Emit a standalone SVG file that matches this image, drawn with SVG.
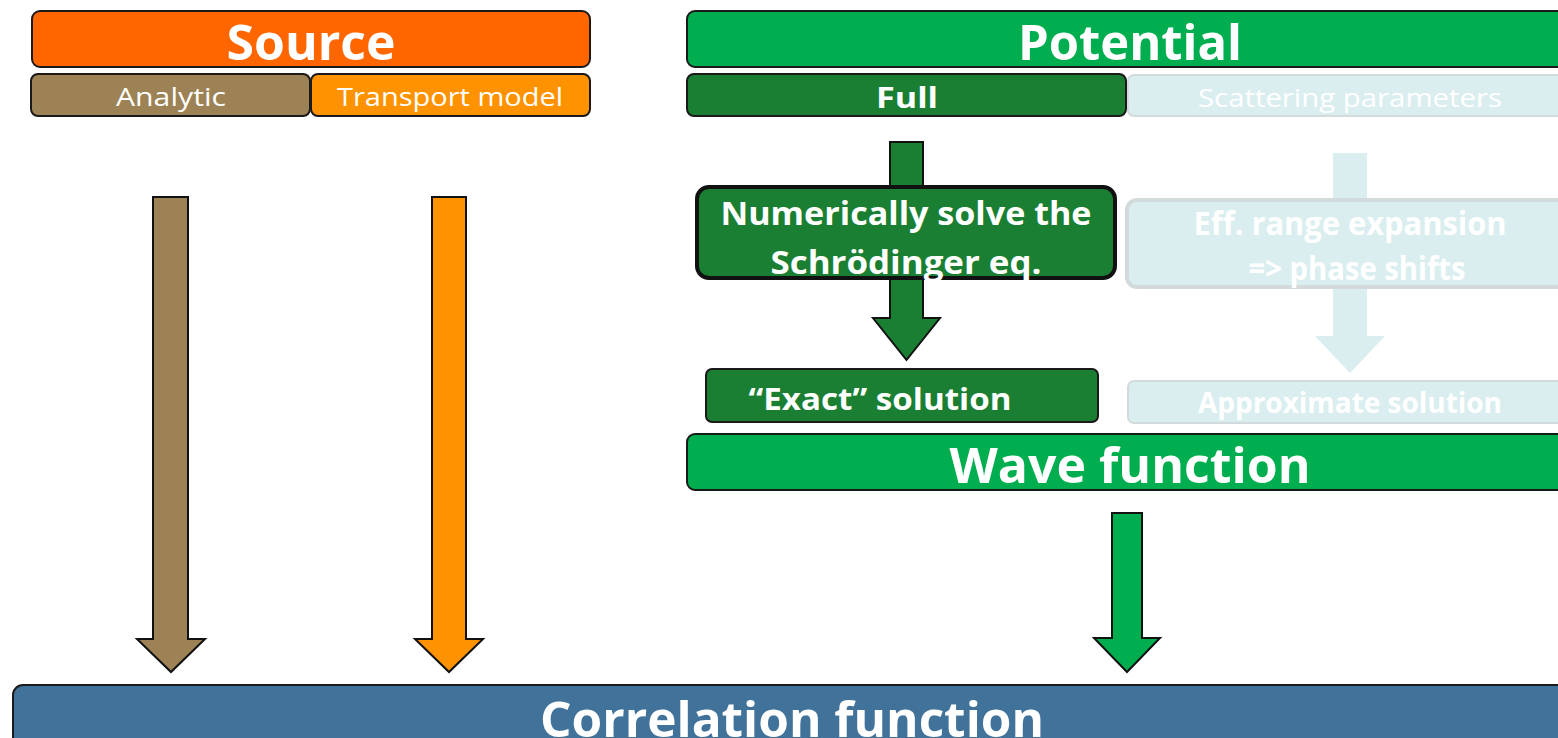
<svg xmlns="http://www.w3.org/2000/svg" width="1558" height="738" viewBox="0 0 1558 738">
<style>
text{font-family:"Open Sans","Liberation Sans",sans-serif;fill:#fff;text-anchor:middle}
.b{font-weight:bold}
.box{stroke:#1a1a1a;stroke-width:2}
.faint{fill:#DAEEF0;stroke:#D3DADB;stroke-width:2}
.arr{stroke:#111;stroke-width:2;stroke-linejoin:miter}
</style>
<rect width="1558" height="738" fill="#fff"/>
<g id="connectors">
<path class="arr" fill="#9C8254" d="M153,197 H188 V639 H205 L171,672 L137,639 H153 Z"/>
<path class="arr" fill="#FF9200" d="M432,197 H466 V639 H483 L449,672 L415,639 H432 Z"/>
<path class="arr" fill="#1A7F32" d="M890,142 H923 V318 H940 L906.5,360 L873,318 H890 Z"/>
<path fill="#DAEEF0" d="M1333,153 H1367 V336 H1385 L1350,373 L1315,336 H1333 Z"/>
<path class="arr" fill="#00AE50" d="M1112,513 H1142 V638 H1160 L1127,672 L1094,638 H1112 Z"/>
</g>
<g id="source">
<rect class="box" x="32" y="11" width="558" height="56" rx="8" fill="#FF6600"/>
<text class="b" x="311" y="60" font-size="48" textLength="169" lengthAdjust="spacingAndGlyphs">Source</text>
</g>
<g id="analytic">
<rect class="box" x="31" y="74" width="279" height="42" rx="7" fill="#9C8254"/>
<text x="171" y="106" font-size="25" textLength="110" lengthAdjust="spacingAndGlyphs">Analytic</text>
</g>
<g id="transport">
<rect class="box" x="311" y="74" width="279" height="42" rx="7" fill="#FF9200"/>
<text x="450" y="106" font-size="25" textLength="226" lengthAdjust="spacingAndGlyphs">Transport model</text>
</g>
<g id="potential">
<rect class="box" x="687" y="11" width="885" height="56" rx="8" fill="#00AE50"/>
<text class="b" x="1130" y="60" font-size="48" textLength="224" lengthAdjust="spacingAndGlyphs">Potential</text>
</g>
<g id="full">
<rect class="box" x="687" y="74" width="439" height="42" rx="7" fill="#1A7F32"/>
<text class="b" x="907" y="108" font-size="28" textLength="62" lengthAdjust="spacingAndGlyphs">Full</text>
</g>
<g id="scattering">
<rect class="faint" x="1128" y="75" width="444" height="41" rx="6"/>
<text x="1350" y="107" font-size="26" textLength="304" lengthAdjust="spacingAndGlyphs">Scattering parameters</text>
</g>
<g id="numerically">
<rect x="697" y="187" width="418" height="91" rx="12" fill="#1A7F32" stroke="#111" stroke-width="4"/>
<text class="b" x="906" y="225" font-size="32" textLength="371" lengthAdjust="spacingAndGlyphs">Numerically solve the</text>
<text class="b" x="906" y="274" font-size="32" textLength="271" lengthAdjust="spacingAndGlyphs">Schrödinger eq.</text>
</g>
<g id="effrange">
<rect x="1127" y="200" width="445" height="87" rx="10" fill="#DAEEF0" stroke="#D3DADB" stroke-width="4"/>
<text class="b" x="1350" y="235" font-size="32" textLength="313" lengthAdjust="spacingAndGlyphs">Eff. range expansion</text>
<text class="b" x="1357" y="280" font-size="32" textLength="217" lengthAdjust="spacingAndGlyphs">=&gt; phase shifts</text>
</g>
<g id="exact">
<rect class="box" x="706" y="369" width="392" height="53" rx="6" fill="#1A7F32"/>
<text class="b" x="880" y="410" font-size="30" textLength="263" lengthAdjust="spacingAndGlyphs">“Exact” solution</text>
</g>
<g id="approximate">
<rect class="faint" x="1128" y="381" width="444" height="42" rx="6"/>
<text class="b" x="1350" y="413" font-size="28" textLength="304" lengthAdjust="spacingAndGlyphs">Approximate solution</text>
</g>
<g id="wave">
<rect class="box" x="687" y="434" width="885" height="56" rx="8" fill="#00AE50"/>
<text class="b" x="1130" y="483" font-size="48" textLength="361" lengthAdjust="spacingAndGlyphs">Wave function</text>
</g>
<g id="correlation">
<rect class="box" x="13" y="685" width="1560" height="70" rx="10" fill="#41729A"/>
<text class="b" x="792" y="737" font-size="48" textLength="504" lengthAdjust="spacingAndGlyphs">Correlation function</text>
</g>
</svg>
